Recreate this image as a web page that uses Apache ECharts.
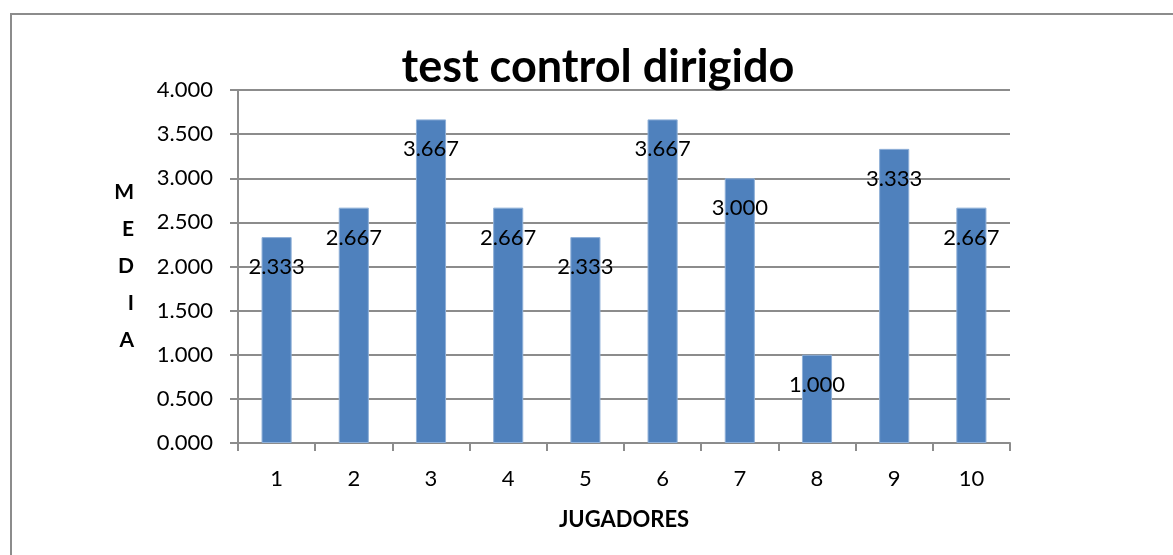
<!DOCTYPE html>
<html>
<head>
<meta charset="utf-8">
<script src="https://cdn.jsdelivr.net/npm/echarts@6/dist/echarts.min.js"></script>
<style>
  html, body { margin: 0; padding: 0; background: #fff; }
  #chart { width: 1173px; height: 555px; }
</style>
</head>
<body>
<div id="chart"></div>
<script>
// datos
const jugadores = ["1", "2", "3", "4", "5", "6", "7", "8", "9", "10"];
const media = [2.333, 2.667, 3.667, 2.667, 2.333, 3.667, 3.0, 1.0, 3.333, 2.667];

const fontFam = "Lato, 'Open Sans', sans-serif";
const chart = echarts.init(document.getElementById("chart"));

const option = {
  animation: false,
  textStyle: { fontFamily: fontFam },
  graphic: [
    {
      // marco exterior
      type: "rect",
      shape: { x: 11, y: 14, width: 1300, height: 700 },
      style: { fill: "none", stroke: "#8c8c8c", lineWidth: 2 },
    },
  ],
  title: {
    text: "test control dirigido",
    left: 593,
    textAlign: "center",
    top: 40,
    textStyle: { fontSize: 45, fontWeight: "bold", color: "#000", fontFamily: fontFam },
  },
  grid: { left: 238, right: 163, top: 90, bottom: 112 },
  xAxis: {
    type: "category",
    data: jugadores,
    name: "JUGADORES",
    nameLocation: "middle",
    nameGap: 66,
    nameTextStyle: { fontSize: 22, fontWeight: "bold", color: "#000" },
    axisLine: { lineStyle: { color: "#8c8c8c", width: 2 } },
    axisTick: { show: true, length: 8, lineStyle: { color: "#8c8c8c", width: 2 } },
    axisLabel: { fontSize: 22, color: "#000", margin: 25 },
  },
  yAxis: {
    type: "value",
    min: 0,
    max: 4,
    interval: 0.5,
    name: "M\nE\nD\nI\nA",
    nameLocation: "middle",
    nameRotate: 0,
    nameGap: 104,
    nameTextStyle: { fontSize: 21, fontWeight: "bold", color: "#000", lineHeight: 37 },
    axisLine: { show: true, lineStyle: { color: "#8c8c8c", width: 2 } },
    axisTick: { show: true, length: 8, lineStyle: { color: "#8c8c8c", width: 2 } },
    axisLabel: {
      fontSize: 22,
      color: "#000",
      margin: 25,
      formatter: (v) => v.toFixed(3),
    },
    splitLine: { lineStyle: { color: "#8c8c8c", width: 2 } },
  },
  series: [
    {
      type: "bar",
      data: media,
      barWidth: "39%",
      itemStyle: { color: "#4F81BD", borderColor: "#8fb0d8", borderWidth: 1 },
      label: {
        show: true,
        position: "insideTop",
        distance: 19,
        fontSize: 22,
        color: "#000",
        formatter: (p) => p.value.toFixed(3),
      },
    },
  ],
};

chart.setOption(option);
</script>
</body>
</html>
